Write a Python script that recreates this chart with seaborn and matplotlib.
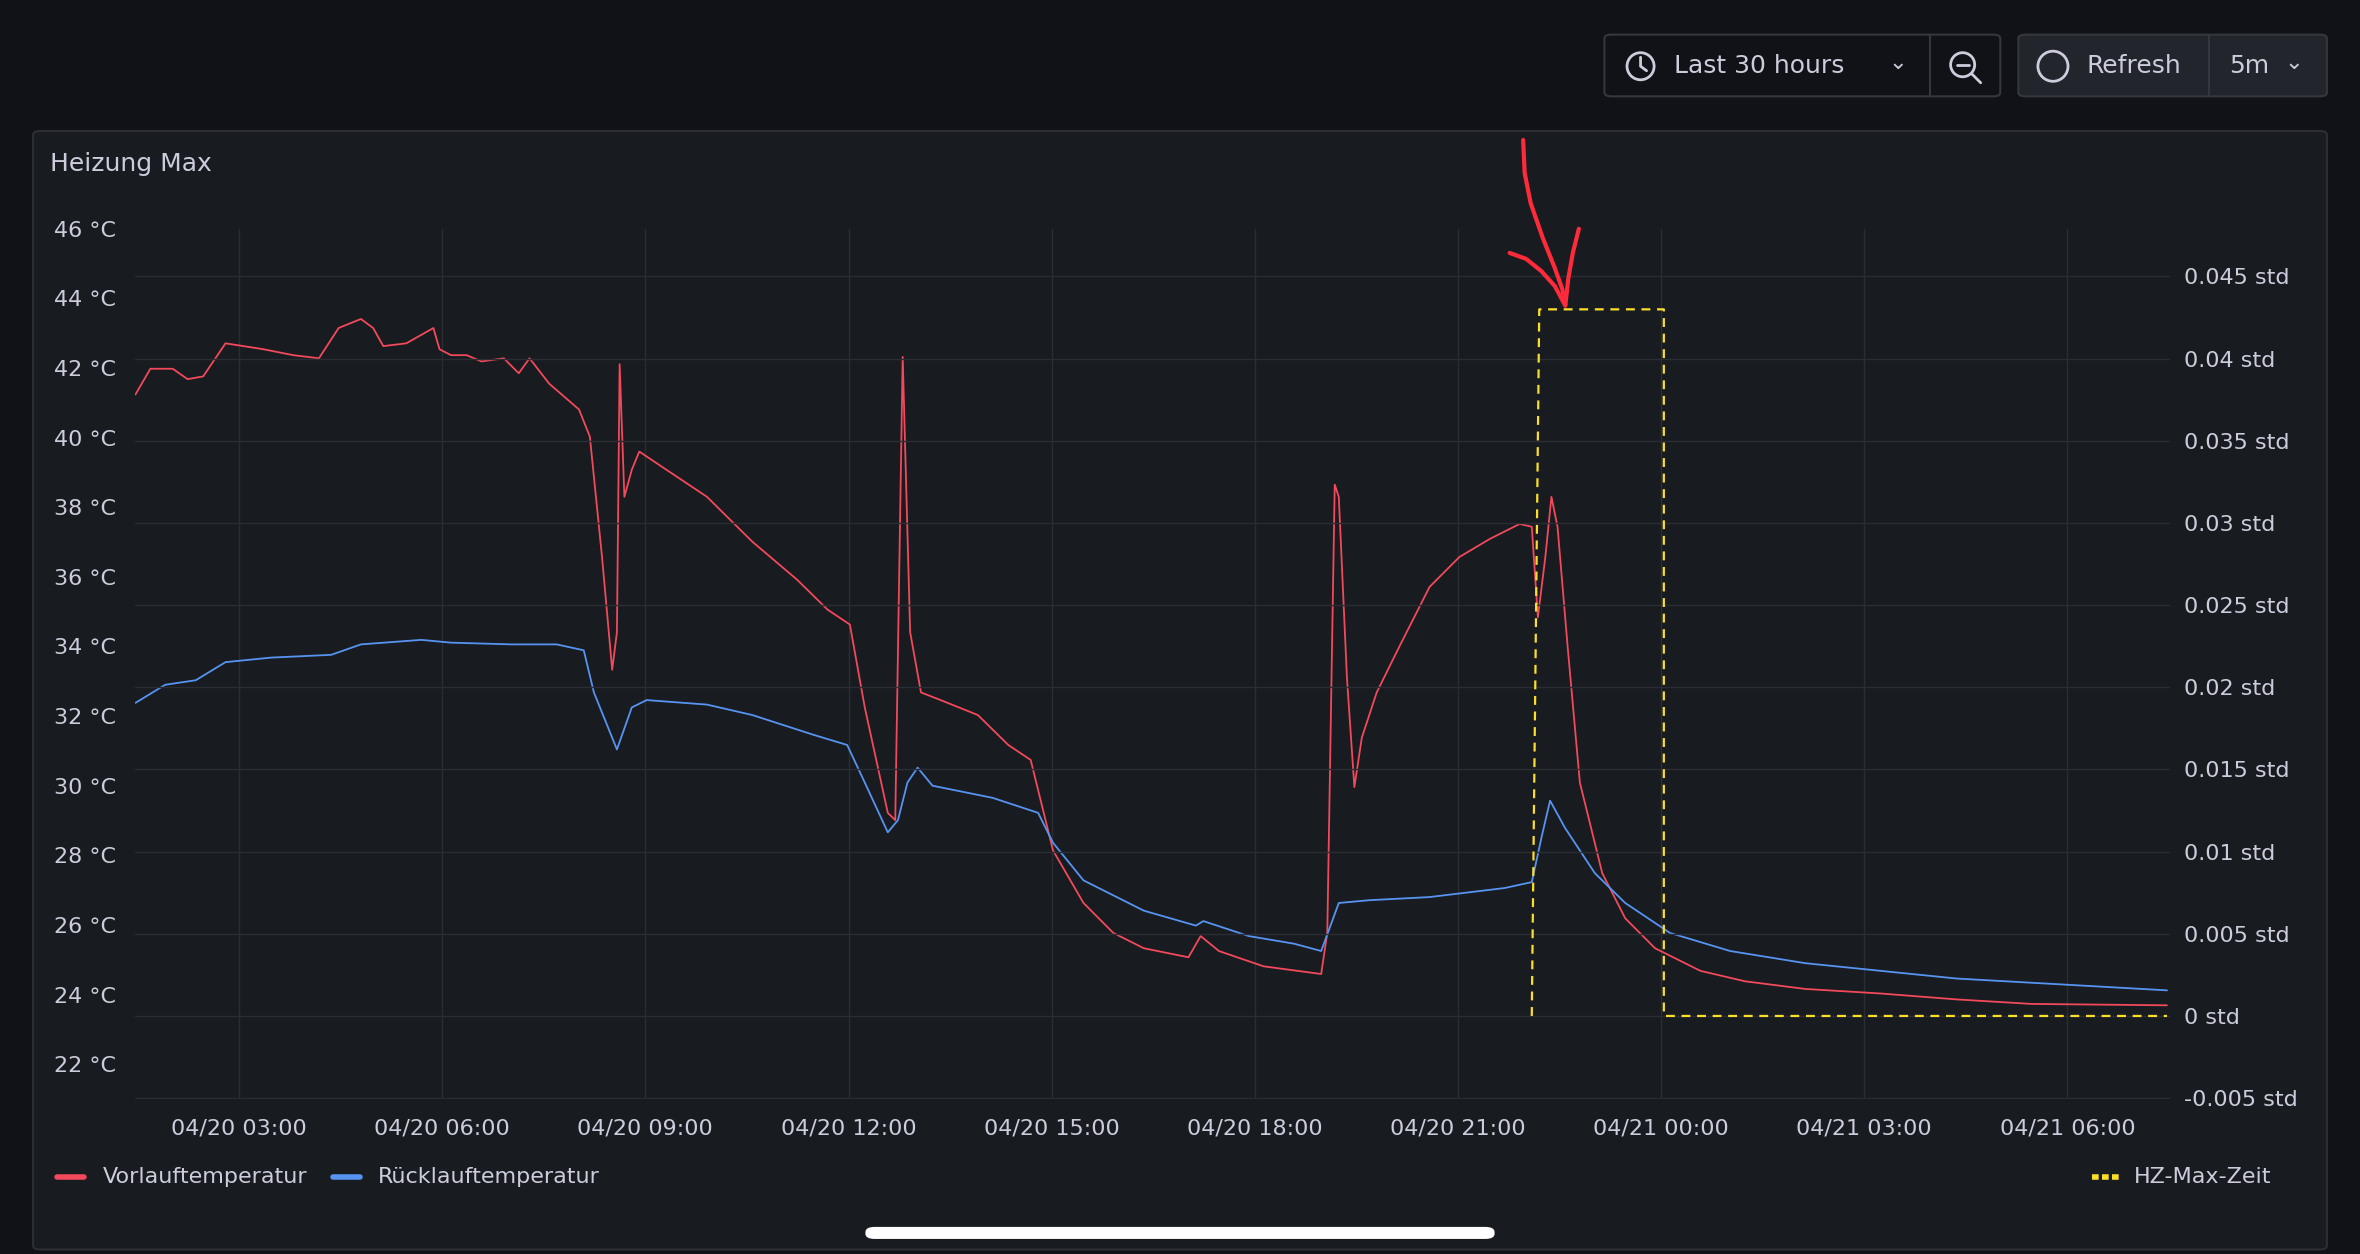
import matplotlib
matplotlib.use("Agg")
import matplotlib.pyplot as plt
import seaborn as sns
import pandas as pd
from matplotlib.patches import FancyBboxPatch, Ellipse
from matplotlib.lines import Line2D

# hours since 04/20 00:00
vl_hours = [1.47,1.69,2.02,2.24,2.47,2.80,3.36,3.80,4.18,4.47,4.80,4.98,5.13,5.47,5.87,5.96,6.13,6.36,6.58,6.91,7.13,7.29,7.58,8.02,8.18,8.36,8.51,8.58,8.62,8.69,8.80,8.91,9.24,9.91,10.58,11.24,11.69,12.02,12.24,12.58,12.69,12.80,12.91,13.07,13.36,13.91,14.36,14.69,15.02,15.47,15.91,16.36,17.02,17.20,17.47,18.13,18.98,19.07,19.18,19.24,19.36,19.47,19.58,19.80,20.13,20.58,21.02,21.47,21.91,22.09,22.18,22.29,22.38,22.47,22.62,22.80,23.13,23.47,23.91,24.58,25.24,26.13,27.24,28.36,29.47,31.47]
vl_temp = [41.24,41.98,41.98,41.68,41.76,42.71,42.54,42.37,42.28,43.15,43.41,43.15,42.63,42.71,43.15,42.54,42.37,42.37,42.19,42.28,41.85,42.28,41.55,40.81,40.03,36.57,33.33,34.41,42.11,38.30,39.08,39.60,39.17,38.30,37.01,35.92,35.06,34.63,32.25,29.22,29.01,42.32,34.41,32.68,32.46,32.03,31.17,30.74,28.14,26.63,25.77,25.33,25.07,25.68,25.25,24.81,24.59,25.77,38.65,38.30,33.11,29.96,31.38,32.68,33.98,35.71,36.57,37.09,37.52,37.44,34.84,36.57,38.30,37.44,33.98,30.09,27.49,26.19,25.33,24.68,24.38,24.16,24.03,23.86,23.73,23.69]
rl_hours = [1.47,1.91,2.36,2.80,3.47,4.36,4.80,5.69,6.13,7.02,7.69,8.09,8.24,8.58,8.80,9.02,9.91,10.58,11.47,11.98,12.24,12.58,12.73,12.87,13.02,13.24,14.13,14.80,15.02,15.47,16.36,17.13,17.24,17.91,18.58,18.98,19.24,19.69,20.58,21.69,22.09,22.24,22.36,22.58,23.02,23.47,24.13,25.02,26.13,28.36,31.47]
rl_temp = [32.38,32.90,33.03,33.55,33.68,33.76,34.06,34.19,34.11,34.06,34.06,33.89,32.68,31.04,32.25,32.46,32.33,32.03,31.47,31.17,30.09,28.66,29.01,30.09,30.52,30.00,29.65,29.22,28.36,27.28,26.41,25.98,26.11,25.68,25.46,25.25,26.63,26.71,26.80,27.06,27.23,28.57,29.57,28.79,27.49,26.63,25.77,25.25,24.90,24.46,24.12]
hz_hours = [22.09, 22.20, 24.04, 24.04, 31.47]
hz_val = [0.0, 0.043, 0.043, 0.0, 0.0]

x_ticks = [3, 6, 9, 12, 15, 18, 21, 24, 27, 30]
x_labels = ["04/20 03:00","04/20 06:00","04/20 09:00","04/20 12:00","04/20 15:00",
            "04/20 18:00","04/20 21:00","04/21 00:00","04/21 03:00","04/21 06:00"]
left_ticks = [22,24,26,28,30,32,34,36,38,40,42,44,46]
right_ticks = [-0.005,0,0.005,0.01,0.015,0.02,0.025,0.03,0.035,0.04,0.045]
right_labels = ["-0.005 std","0 std","0.005 std","0.01 std","0.015 std","0.02 std",
                "0.025 std","0.03 std","0.035 std","0.04 std","0.045 std"]

RED, BLUE, YEL = "#F2495C", "#5794F2", "#FADE2A"
TXT = "#ccccdc"
BG, PANEL = "#111217", "#181b1f"

sns.set_theme(style="dark")
plt.rcParams['font.family'] = ['DejaVu Sans']

W, H = 1568, 833
fig = plt.figure(figsize=(23.6, 12.54), dpi=100, facecolor=BG)
def fx(x): return x / W
def fy(y): return 1 - y / H

# panel
fig.patches.append(FancyBboxPatch((fx(22), fy(830)), fx(1546)-fx(22), fy(87)-fy(830),
    boxstyle="round,pad=0,rounding_size=0.003", transform=fig.transFigure,
    facecolor=PANEL, edgecolor="#2c2e33", lw=1.5, zorder=-10))
fig.text(fx(33), fy(109), "Heizung Max", color=TXT, fontsize=18, va="center", ha="left")

# top buttons
for (x0, x1, x2) in [(1066, 1282, 1329), (1341, 1468, 1546)]:
    fig.patches.append(FancyBboxPatch((fx(x0), fy(64)), fx(x2)-fx(x0), fy(23)-fy(64),
        boxstyle="round,pad=0,rounding_size=0.003", transform=fig.transFigure,
        facecolor="#22252b" if x0 == 1341 else BG, edgecolor="#34373d", lw=1.5, zorder=-10))
    fig.add_artist(Line2D([fx(x1), fx(x1)], [fy(23), fy(64)], transform=fig.transFigure, color="#34373d", lw=1.5))
fig.text(fx(1112), fy(44), "Last 30 hours", color=TXT, fontsize=18, va="center")
fig.text(fx(1255), fy(42), "⌄", color=TXT, fontsize=16, va="center")
fig.text(fx(1386), fy(44), "Refresh", color=TXT, fontsize=18, va="center")
fig.text(fx(1481), fy(44), "5m", color=TXT, fontsize=18, va="center")
fig.text(fx(1518), fy(42), "⌄", color=TXT, fontsize=16, va="center")
for (cx, cy, r) in [(1090, 44, 9), (1304, 43, 8), (1364, 44, 10)]:
    fig.add_artist(Ellipse((fx(cx), fy(cy)), 2*r/W, 2*r/H, transform=fig.transFigure,
                           fill=False, ec=TXT, lw=2, zorder=5))
fig.add_artist(Line2D([fx(1090), fx(1090), fx(1094)], [fy(38), fy(44), fy(47)], transform=fig.transFigure, color=TXT, lw=2))
fig.add_artist(Line2D([fx(1300), fx(1308)], [fy(43), fy(43)], transform=fig.transFigure, color=TXT, lw=2))
fig.add_artist(Line2D([fx(1310), fx(1316)], [fy(49), fy(55)], transform=fig.transFigure, color=TXT, lw=2))

ax = fig.add_axes([fx(90), fy(730), fx(1442)-fx(90), fy(152)-fy(730)])
ax.set_facecolor("none")
df_v = pd.DataFrame({"h": vl_hours, "t": vl_temp})
df_r = pd.DataFrame({"h": rl_hours, "t": rl_temp})
sns.lineplot(data=df_v, x="h", y="t", ax=ax, color=RED, lw=1.3, zorder=3, sort=False, estimator=None)
sns.lineplot(data=df_r, x="h", y="t", ax=ax, color=BLUE, lw=1.3, zorder=3, sort=False, estimator=None)
ax.set_xlim(1.47, 31.52)
ax.set_ylim(21.0, 46)
ax.set_xticks(x_ticks)
ax.set_xticklabels(x_labels)
ax.set_yticks(left_ticks)
ax.set_yticklabels([f"{t} °C" for t in left_ticks])
ax.set_xlabel(""); ax.set_ylabel("")
ax.tick_params(colors=TXT, labelsize=16, length=0, pad=14)
for s in ax.spines.values(): s.set_visible(False)
ax.grid(axis="x", color="#2a2d33", lw=1)
ax.grid(axis="y", visible=False)

ax2 = ax.twinx()
df_h = pd.DataFrame({"h": hz_hours, "v": hz_val})
sns.lineplot(data=df_h, x="h", y="v", ax=ax2, color=YEL, lw=1.6, linestyle=(0, (4, 3)), zorder=4,
             sort=False, estimator=None)
ax2.set_ylim(-0.00505, 0.0479)
ax2.set_yticks(right_ticks)
ax2.set_yticklabels(right_labels)
ax2.set_ylabel("")
ax2.tick_params(colors=TXT, labelsize=16, length=0, pad=10)
for s in ax2.spines.values(): s.set_visible(False)
ax2.grid(axis="y", color="#2a2d33", lw=1)
ax2.grid(axis="x", visible=False)
ax2.set_axisbelow(True)

# legend
for (x, lab, c) in [(38, "Vorlauftemperatur", RED), (221, "Rücklauftemperatur", BLUE)]:
    fig.add_artist(Line2D([fx(x), fx(x+18)], [fy(782), fy(782)], transform=fig.transFigure, color=c, lw=4, solid_capstyle="round"))
    fig.text(fx(x+30), fy(782), lab, color=TXT, fontsize=16, va="center")
fig.add_artist(Line2D([fx(1390), fx(1408)], [fy(782), fy(782)], transform=fig.transFigure, color=YEL, lw=4, linestyle=(0, (1.2, 0.6))))
fig.text(fx(1418), fy(782), "HZ-Max-Zeit", color=TXT, fontsize=16, va="center")

# hand-drawn arrow
fig.add_artist(Line2D([fx(v) for v in [1012, 1013, 1017, 1025, 1033, 1038, 1040]],
                      [fy(v) for v in [93, 115, 135, 158, 178, 192, 203]], transform=fig.transFigure, color="#ff2a3a", lw=3, solid_capstyle="round"))
fig.add_artist(Line2D([fx(v) for v in [1003, 1014, 1024, 1033, 1040, 1042, 1045, 1049]],
                      [fy(v) for v in [168, 172, 180, 190, 203, 185, 168, 152]], transform=fig.transFigure, color="#ff2a3a", lw=3, solid_capstyle="round"))

# home indicator
fig.patches.append(FancyBboxPatch((fx(575), fy(823)), fx(993)-fx(575), fy(815)-fy(823),
    boxstyle="round,pad=0,rounding_size=0.004", transform=fig.transFigure, facecolor="white", edgecolor="none"))

fig.savefig("out.png", dpi=100, facecolor=BG)
